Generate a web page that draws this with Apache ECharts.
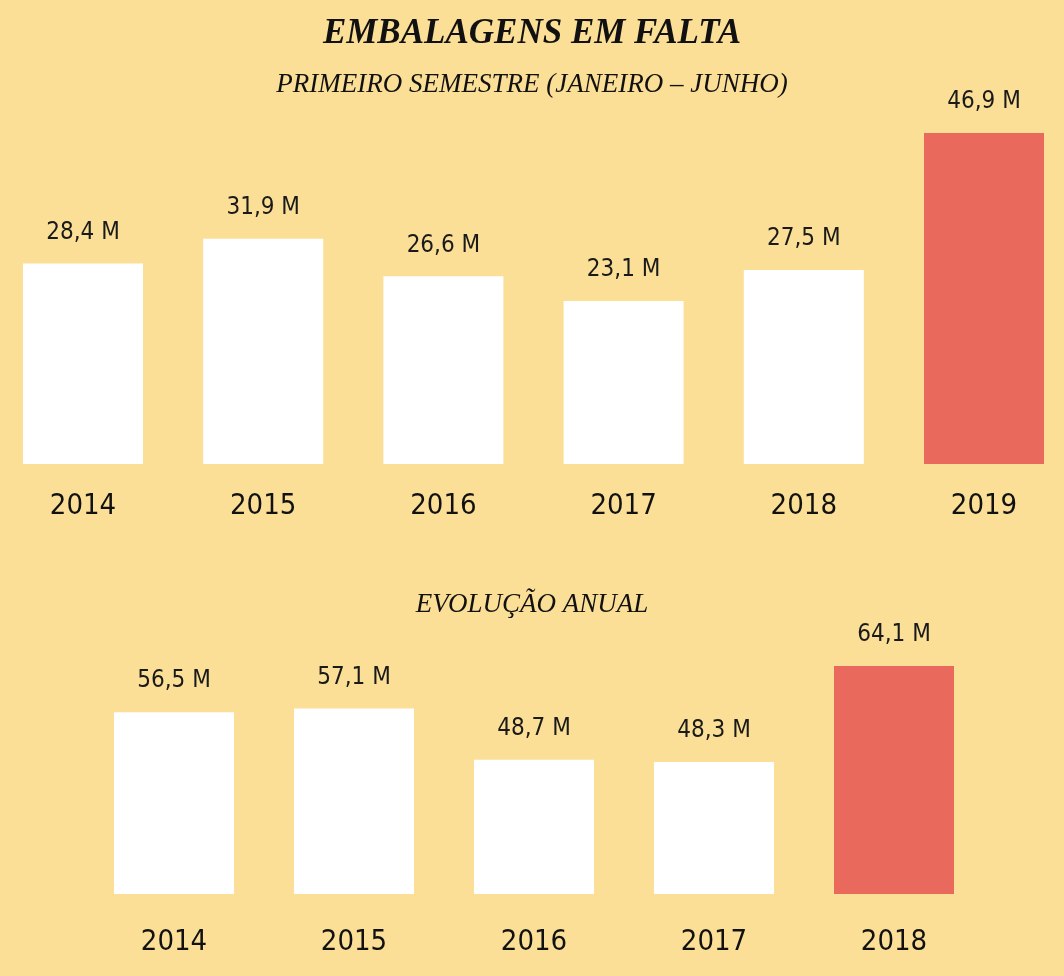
<!DOCTYPE html>
<html>
<head>
<meta charset="utf-8">
<script src="https://cdn.jsdelivr.net/npm/echarts@6/dist/echarts.min.js"></script>
<style>
html, body { margin: 0; padding: 0; background: #FBDF96; }
#container { width: 1064px; height: 976px; }
</style>
</head>
<body>
<div id="container"></div>
<script>
// primeiro semestre (janeiro - junho)
var anosSemestre = ['2014', '2015', '2016', '2017', '2018', '2019'];
var valoresSemestre = [28.4, 31.9, 26.6, 23.1, 27.5, 46.9];
// evolucao anual
var anosAnual = ['2014', '2015', '2016', '2017', '2018'];
var valoresAnual = [56.5, 57.1, 48.7, 48.3, 64.1];

var narrow = '"Liberation Sans Narrow", "DejaVu Sans Condensed", sans-serif';
var serif = '"Liberation Serif", "DejaVu Serif", serif';

function rotulo(p) {
	return p.value.toFixed(1).replace('.', ',') + ' M';
}
function corBarra(total) {
	return function (p) {
		return p.dataIndex === total - 1 ? '#EA695D' : '#ffffff';
	};
}
function eixoX(idx, dados, margem) {
	return {
		type: 'category',
		gridIndex: idx,
		data: dados,
		boundaryGap: false,
		axisLine: { show: false },
		axisTick: { show: false },
		axisLabel: {
			margin: margem,
			fontFamily: narrow,
			fontSize: 29,
			color: '#111'
		}
	};
}
function serie(idx, dados) {
	return {
		type: 'bar',
		xAxisIndex: idx,
		yAxisIndex: idx,
		barWidth: 120,
		data: dados,
		itemStyle: { color: corBarra(dados.length) },
		label: {
			show: true,
			position: 'top',
			distance: 19,
			formatter: rotulo,
			fontFamily: narrow,
			fontSize: 24,
			color: '#1a1a1a'
		},
		silent: true
	};
}

var dom = document.getElementById('container');
var myChart = echarts.init(dom);
var option = {
	backgroundColor: '#FBDF96',
	animation: false,
	title: [{
		text: 'EMBALAGENS EM FALTA',
		left: 'center',
		top: 11,
		textStyle: { fontFamily: serif, fontStyle: 'italic', fontWeight: 'bold', fontSize: 35, color: '#111' }
	}, {
		text: 'PRIMEIRO SEMESTRE (JANEIRO – JUNHO)',
		left: 'center',
		top: 66,
		textStyle: { fontFamily: serif, fontStyle: 'italic', fontWeight: 'normal', fontSize: 27, color: '#111' }
	}, {
		text: 'EVOLUÇÃO ANUAL',
		left: 'center',
		top: 586,
		textStyle: { fontFamily: serif, fontStyle: 'italic', fontWeight: 'normal', fontSize: 27, color: '#111' }
	}],
	grid: [
		{ left: 83, width: 901, top: 133, height: 331 },
		{ left: 174, width: 720, top: 666, height: 228 }
	],
	xAxis: [eixoX(0, anosSemestre, 28), eixoX(1, anosAnual, 34)],
	yAxis: [
		{ type: 'value', gridIndex: 0, min: 0, max: 46.9, show: false },
		{ type: 'value', gridIndex: 1, min: 26.6, max: 64.1, show: false }
	],
	series: [serie(0, valoresSemestre), serie(1, valoresAnual)]
};
myChart.setOption(option, true);
</script>
</body>
</html>
